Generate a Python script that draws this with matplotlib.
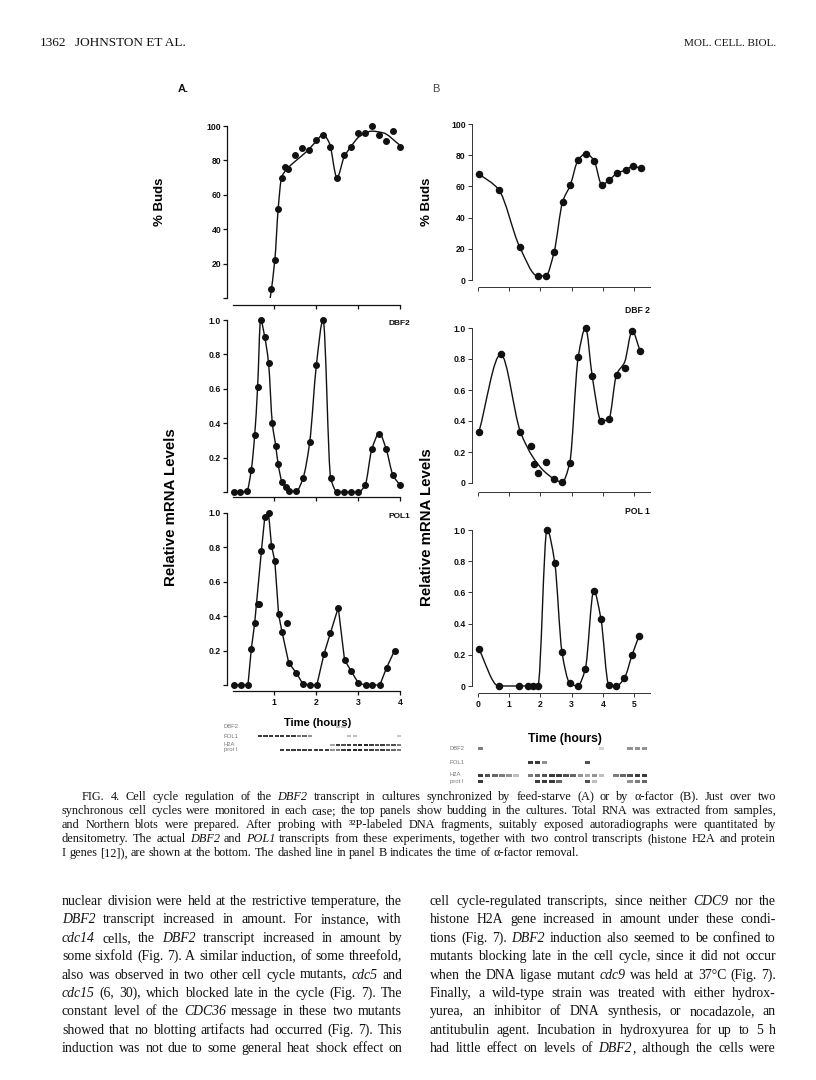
import numpy as np
import matplotlib
matplotlib.use("Agg")
import matplotlib.pyplot as plt
from matplotlib.path import Path
from matplotlib.patches import PathPatch
from matplotlib.transforms import IdentityTransform

# ---- data ----
# A (feed-starve), time in hours
a_buds_t = [0.94, 1.02, 1.10, 1.18, 1.26, 1.34, 1.51, 1.67, 1.84, 2.00, 2.17,
            2.33, 2.50, 2.67, 2.83, 3.01, 3.17, 3.33, 3.50, 3.67, 3.83, 3.99]
a_buds = [5, 22, 52, 70, 76, 75, 83, 87, 86, 92, 95,
          88, 70, 83, 88, 96, 96, 100, 95, 91, 97, 88]
a_buds_fit_t = [0.91, 1.02, 1.10, 1.18, 1.29, 1.53, 1.77, 2.00, 2.17,
                2.32, 2.50, 2.67, 2.83, 3.04, 3.33, 3.60, 3.99]
a_buds_fit = [0, 22, 52, 70, 74.5, 80, 85, 91, 95,
              90, 70, 82, 88, 94, 97, 96, 89]

a_dbf2_t = [0.04, 0.19, 0.35, 0.46, 0.54, 0.61, 0.68, 0.78, 0.87, 0.96,
            1.04, 1.10, 1.19, 1.28, 1.36, 1.53, 1.69, 1.85, 2.01, 2.17,
            2.35, 2.51, 2.67, 2.84, 3.01, 3.17, 3.33, 3.51, 3.67, 3.83, 4.00]
a_dbf2 = [0, 0, 0.005, 0.13, 0.33, 0.61, 1.0, 0.90, 0.75, 0.40,
          0.27, 0.16, 0.06, 0.03, 0.005, 0.005, 0.08, 0.29, 0.74, 1.0,
          0.08, 0, 0, 0, 0, 0.04, 0.25, 0.34, 0.25, 0.10, 0.04]

a_pol1_t = [0.04, 0.21, 0.38, 0.46, 0.54, 0.61, 0.65, 0.70, 0.78, 0.87,
            0.94, 1.02, 1.11, 1.19, 1.30, 1.35, 1.53, 1.69, 1.86, 2.02,
            2.19, 2.34, 2.53, 2.68, 2.84, 3.01, 3.18, 3.34, 3.52, 3.68, 3.87]
a_pol1 = [0, 0, 0, 0.21, 0.36, 0.47, 0.47, 0.78, 0.975, 1.0,
          0.81, 0.72, 0.41, 0.31, 0.36, 0.13, 0.07, 0.006, 0, 0,
          0.18, 0.30, 0.45, 0.145, 0.08, 0.01, 0, 0, 0, 0.10, 0.20]
a_pol1_fit_t = [0.04, 0.21, 0.38, 0.46, 0.54, 0.70, 0.78, 0.87, 0.94, 1.02,
                1.11, 1.19, 1.35, 1.53, 1.69, 1.86, 2.02, 2.19, 2.34, 2.53,
                2.68, 2.84, 3.01, 3.18, 3.34, 3.52, 3.68, 3.87]
a_pol1_fit = [0, 0, 0, 0.21, 0.36, 0.78, 0.975, 1.0, 0.81, 0.72,
              0.41, 0.31, 0.13, 0.07, 0.006, 0, 0, 0.18, 0.30, 0.45,
              0.145, 0.08, 0.01, 0, 0, 0, 0.10, 0.20]

# B (alpha-factor)
b_buds_t = [0.03, 0.66, 1.34, 1.91, 2.17, 2.44, 2.71, 2.96, 3.21,
            3.46, 3.72, 3.97, 4.20, 4.46, 4.73, 4.97, 5.22]
b_buds = [68, 58, 21, 2.6, 2.6, 18, 50, 61, 77,
          81, 76.5, 61, 64, 68.5, 70.5, 73, 71.5]

b_dbf2_t = [0.03, 0.73, 1.36, 1.71, 1.81, 1.93, 2.19, 2.44, 2.69, 2.94,
            3.21, 3.45, 3.66, 3.95, 4.19, 4.44, 4.70, 4.94, 5.20]
b_dbf2 = [0.33, 0.83, 0.33, 0.24, 0.12, 0.064, 0.135, 0.026, 0.006, 0.13,
          0.81, 1.0, 0.69, 0.40, 0.41, 0.70, 0.745, 0.98, 0.85]
b_dbf2_fit_t = [0.03, 0.73, 1.36, 1.75, 2.10, 2.45, 2.69, 2.94, 3.21,
                3.45, 3.66, 3.95, 4.19, 4.44, 4.70, 4.94, 5.20]
b_dbf2_fit = [0.33, 0.83, 0.33, 0.17, 0.08, 0.025, 0.005, 0.13, 0.81,
              1.0, 0.69, 0.40, 0.41, 0.70, 0.78, 0.98, 0.85]

b_pol1_t = [0.02, 0.66, 1.32, 1.61, 1.76, 1.92, 2.21, 2.46, 2.69, 2.94,
            3.19, 3.44, 3.71, 3.94, 4.19, 4.43, 4.69, 4.94, 5.16]
b_pol1 = [0.24, 0, 0, 0, 0, 0, 1.0, 0.79, 0.22, 0.02,
          0, 0.11, 0.61, 0.43, 0.008, 0, 0.05, 0.20, 0.32]

# northern blot band intensities (0 = none, 1 = black), one value per lane
blot_names = ["DBF2", "POL1", "H2A", "prot I"]
a_blot = [
    [0, 0, 0, 0, 0, 0, 0, 0, 0, 0, 0, 0, 0, 0, 0, 0, 0, 0, 0.3, 0.3, 0, 0, 0, 0, 0, 0, 0, 0, 0, 0],
    [0, 0, 0, 0, 0.9, 0.9, 0.9, 0.9, 0.9, 0.9, 0.9, 0.6, 0.7, 0.5, 0, 0, 0, 0, 0, 0, 0.3, 0.3, 0, 0, 0, 0, 0, 0, 0, 0.25],
    [0, 0, 0, 0, 0, 0, 0, 0, 0, 0, 0, 0, 0, 0, 0, 0, 0, 0.4, 0.9, 0.8, 0.9, 0.9, 1, 1, 0.9, 0.8, 0.9, 0.7, 0.8, 0.6],
    [0, 0, 0, 0, 0, 0, 0, 0, 0.9, 0.9, 0.9, 0.9, 0.9, 0.9, 0.9, 0.9, 0.9, 0.5, 0.6, 0.9, 1, 1, 1, 0.9, 0.9, 0.8, 0.9, 0.8, 0.7, 0.6],
]
b_blot = [
    [0.6, 0, 0, 0, 0, 0, 0, 0, 0, 0, 0, 0, 0, 0, 0, 0, 0, 0.2, 0, 0, 0, 0.5, 0.5, 0.5],
    [0, 0, 0, 0, 0, 0, 0, 0.9, 0.9, 0.5, 0, 0, 0, 0, 0, 0.8, 0, 0, 0, 0, 0, 0, 0, 0],
    [0.9, 0.8, 0.7, 0.6, 0.5, 0.3, 0, 0.6, 0.7, 0.8, 0.9, 0.9, 0.8, 0.7, 0.5, 0.4, 0.5, 0.3, 0, 0.6, 0.7, 0.8, 0.9, 0.9],
    [0.9, 0, 0, 0, 0, 0, 0, 0, 0.9, 0.9, 0.9, 0.7, 0, 0, 0, 0.8, 0.3, 0, 0, 0, 0, 0.5, 0.6, 0.7],
]

header_left = ["1362", "JOHNSTON ET AL."]
header_right = "MOL. CELL. BIOL."

caption = [
    "FIG. 4. Cell cycle regulation of the _DBF2_ transcript in cultures synchronized by feed-starve (A) or by α-factor (B). Just over two",
    "synchronous cell cycles were monitored in each case; the top panels show budding in the cultures. Total RNA was extracted from samples,",
    "and Northern blots were prepared. After probing with ³²P-labeled DNA fragments, suitably exposed autoradiographs were quantitated by",
    "densitometry. The actual _DBF2_ and _POL1_ transcripts from these experiments, together with two control transcripts (histone H2A and protein",
    "I genes [12]), are shown at the bottom. The dashed line in panel B indicates the time of α-factor removal.",
]
col_left = [
    "nuclear division were held at the restrictive temperature, the",
    "_DBF2_ transcript increased in amount. For instance, with",
    "_cdc14_ cells, the _DBF2_ transcript increased in amount by",
    "some sixfold (Fig. 7). A similar induction, of some threefold,",
    "also was observed in two other cell cycle mutants, _cdc5_ and",
    "_cdc15_ (6, 30), which blocked late in the cycle (Fig. 7). The",
    "constant level of the _CDC36_ message in these two mutants",
    "showed that no blotting artifacts had occurred (Fig. 7). This",
    "induction was not due to some general heat shock effect on",
]
col_right = [
    "cell cycle-regulated transcripts, since neither _CDC9_ nor the",
    "histone H2A gene increased in amount under these condi-",
    "tions (Fig. 7). _DBF2_ induction also seemed to be confined to",
    "mutants blocking late in the cell cycle, since it did not occur",
    "when the DNA ligase mutant _cdc9_ was held at 37°C (Fig. 7).",
    "Finally, a wild-type strain was treated with either hydrox-",
    "yurea, an inhibitor of DNA synthesis, or nocadazole, an",
    "antitubulin agent. Incubation in hydroxyurea for up to 5 h",
    "had little effect on levels of _DBF2_, although the cells were",
]

# ---- page ----
W, H = 816, 1080
fig = plt.figure(figsize=(W / 100, H / 100), dpi=100)
fig.patch.set_facecolor("white")
PIX = IdentityTransform()
SANS = "Liberation Sans"
SERIF = "Liberation Serif"
INK = "#111111"


def ptext(x, y, s, **kw):
    kw.setdefault("color", INK)
    return fig.text(x, H - y, s, transform=PIX, **kw)


def put_line(line, x0, x1, yb, size, justify=True):
    # justified line of serif text, words wrapped in _..._ are italic
    r = fig.canvas.get_renderer()
    words = []
    for w in line.split():
        segs = []
        for k, s in enumerate(w.split("_")):
            if s:
                t = ptext(0, 0, s, fontsize=size, family=SERIF,
                          style="italic" if k % 2 else "normal", va="baseline")
                segs.append((t, t.get_window_extent(r).width))
        words.append(segs)
    wsum = [sum(wd for _, wd in segs) for segs in words]
    if justify and len(words) > 1:
        gap = (x1 - x0 - sum(wsum)) / (len(words) - 1)
    else:
        gap = size * 100 / 72 * 0.25
    x = x0
    for segs, ws in zip(words, wsum):
        xx = x
        for t, wd in segs:
            t.set_position((xx, H - yb))
            xx += wd
        x += ws + gap


def panel(xm, ym, xlim, ylim):
    # xm/ym: page pixel = a + b*value (y measured from top)
    x0, x1 = xm[0] + xm[1] * xlim[0], xm[0] + xm[1] * xlim[1]
    yt, yb = ym[0] - ym[1] * ylim[1], ym[0] - ym[1] * ylim[0]
    ax = fig.add_axes([x0 / W, 1 - yb / H, (x1 - x0) / W, (yb - yt) / H])
    ax.set_xlim(xlim)
    ax.set_ylim(ylim)
    ax.patch.set_alpha(0)
    for s in ["top", "right"]:
        ax.spines[s].set_visible(False)
    return ax


def axes_style(ax, xpos, ypos, xb, yb, yticks, ylabels, xticks, xlabels, lw, col, size):
    ax.spines["left"].set_position(("data", xpos))
    ax.spines["bottom"].set_position(("data", ypos))
    ax.spines["left"].set_bounds(*yb)
    ax.spines["bottom"].set_bounds(*xb)
    for s in ["left", "bottom"]:
        ax.spines[s].set_linewidth(lw)
        ax.spines[s].set_color(col)
    ax.set_yticks(yticks, ylabels)
    ax.set_xticks(xticks, xlabels)
    ax.tick_params(direction="out", length=3, width=lw, color=col, pad=1.5,
                   labelsize=size, labelcolor=INK)
    for lab in ax.get_xticklabels() + ax.get_yticklabels():
        lab.set_fontfamily(SANS)
        lab.set_fontweight("bold")


def smooth_path(x, y):
    # shape-preserving cubic through the knots, drawn as bezier segments
    x = np.asarray(x, float)
    y = np.asarray(y, float)
    dx = np.diff(x)
    s = np.diff(y) / dx
    m = np.zeros_like(y)
    m[0], m[-1] = s[0], s[-1]
    for i in range(1, len(y) - 1):
        if s[i - 1] * s[i] > 0:
            w1, w2 = 2 * dx[i] + dx[i - 1], dx[i] + 2 * dx[i - 1]
            m[i] = (w1 + w2) / (w1 / s[i - 1] + w2 / s[i])
    verts, codes = [(x[0], y[0])], [Path.MOVETO]
    for i in range(len(x) - 1):
        h = dx[i]
        verts += [(x[i] + h / 3, y[i] + m[i] * h / 3),
                  (x[i + 1] - h / 3, y[i + 1] - m[i + 1] * h / 3),
                  (x[i + 1], y[i + 1])]
        codes += [Path.CURVE4] * 3
    return Path(verts, codes)


def draw(ax, t, v, ft, fv, smooth=True, ms=4.0, lw=1.0):
    if smooth:
        ax.add_patch(PathPatch(smooth_path(ft, fv), fill=False, lw=lw, ec=INK))
    else:
        ax.plot(ft, fv, color=INK, lw=lw)
    ax.plot(t, v, "o", color=INK, ms=ms, mec=INK, clip_on=False)


# header
ptext(40, 46, header_left[0], fontsize=9.5, family=SERIF, va="baseline")
ptext(75, 46, header_left[1], fontsize=9.5, family=SERIF, va="baseline")
ptext(776, 46, header_right, fontsize=8, family=SERIF, va="baseline", ha="right")

# ---- panel A ----
AX = (232.0, 42.0)
AXL = (-0.2, 4.1)
ax1 = panel(AX, (298.0, 1.72), AXL, (-6, 104))
axes_style(ax1, -0.11, -4, (0.03, 4.0), (0, 100), [0, 20, 40, 60, 80, 100],
           ["", "20", "40", "60", "80", "100"], [1, 2, 3, 4], [], 0.9, INK, 6.2)
draw(ax1, a_buds_t, a_buds, a_buds_fit_t, a_buds_fit)
ax1.set_ylabel("% Buds", fontsize=9.5, family=SANS, fontweight="bold", va="center")
ax1.yaxis.set_label_coords(160, H - 202, transform=PIX)

ax2 = panel(AX, (492.0, 172.0), AXL, (-0.05, 1.05))
axes_style(ax2, -0.11, -0.03, (0.03, 4.0), (0, 1.0), [0, 0.2, 0.4, 0.6, 0.8, 1.0],
           ["", "0.2", "0.4", "0.6", "0.8", "1.0"], [1, 2, 3, 4], [], 0.9, INK, 6.2)
draw(ax2, a_dbf2_t, a_dbf2, a_dbf2_t, a_dbf2)
ax2.text(3.72, 0.97, "DBF2", fontsize=6, family=SANS, fontweight="bold", color=INK)
ax2.set_ylabel("Relative mRNA Levels", fontsize=10.8, family=SANS, fontweight="bold", va="center")
ax2.yaxis.set_label_coords(171, H - 507, transform=PIX)

ax3 = panel(AX, (685.0, 172.0), AXL, (-0.06, 1.05))
axes_style(ax3, -0.11, -0.037, (0.03, 4.0), (0, 1.0), [0, 0.2, 0.4, 0.6, 0.8, 1.0],
           ["", "0.2", "0.4", "0.6", "0.8", "1.0"], [1, 2, 3, 4], ["1", "2", "3", "4"], 0.9, INK, 6.2)
draw(ax3, a_pol1_t, a_pol1, a_pol1_fit_t, a_pol1_fit, smooth=False)
ax3.text(3.72, 0.97, "POL1", fontsize=6, family=SANS, fontweight="bold", color=INK)
ax3.set_xlabel("Time (hours)", fontsize=8, family=SANS, fontweight="bold")
ax3.xaxis.set_label_coords(318, H - 718, transform=PIX)

ptext(178, 92, "A.", fontsize=8, family=SANS, fontweight="bold", va="baseline")

# ---- panel B ----
BX = (478.0, 31.2)
BXL = (-0.3, 5.6)
BCOL = "#333333"
bx1 = panel(BX, (280.0, 1.56), BXL, (-8, 104))
axes_style(bx1, -0.19, -4.7, (0.03, 5.5), (0, 100), [0, 20, 40, 60, 80, 100],
           ["0", "20", "40", "60", "80", "100"], [0, 1, 2, 3, 4, 5], [], 0.7, BCOL, 6.2)
draw(bx1, b_buds_t, b_buds, b_buds_t, b_buds, ms=4.4)
bx1.set_ylabel("% Buds", fontsize=9.5, family=SANS, fontweight="bold", va="center")
bx1.yaxis.set_label_coords(427, H - 202, transform=PIX)

bx2 = panel(BX, (483.0, 155.0), BXL, (-0.07, 1.05))
axes_style(bx2, -0.19, -0.056, (0.03, 5.5), (0, 1.0), [0, 0.2, 0.4, 0.6, 0.8, 1.0],
           ["0", "0.2", "0.4", "0.6", "0.8", "1.0"], [0, 1, 2, 3, 4, 5], [], 0.7, BCOL, 6.2)
draw(bx2, b_dbf2_t, b_dbf2, b_dbf2_fit_t, b_dbf2_fit, ms=4.4)
bx2.text(5.5, 1.10, "DBF 2", fontsize=6.2, family=SANS, fontweight="bold", color=INK,
         ha="right", clip_on=False)
bx2.set_ylabel("Relative mRNA Levels", fontsize=10.8, family=SANS, fontweight="bold", va="center")
bx2.yaxis.set_label_coords(427, H - 527, transform=PIX)

bx3 = panel(BX, (686.0, 156.0), BXL, (-0.07, 1.05))
axes_style(bx3, -0.19, -0.047, (0.03, 5.5), (0, 1.0), [0, 0.2, 0.4, 0.6, 0.8, 1.0],
           ["0", "0.2", "0.4", "0.6", "0.8", "1.0"], [0, 1, 2, 3, 4, 5],
           ["0", "1", "2", "3", "4", "5"], 0.7, BCOL, 6.2)
draw(bx3, b_pol1_t, b_pol1, b_pol1_t, b_pol1, ms=4.4)
bx3.text(5.5, 1.10, "POL 1", fontsize=6.2, family=SANS, fontweight="bold", color=INK,
         ha="right", clip_on=False)
bx3.set_xlabel("Time (hours)", fontsize=8.8, family=SANS, fontweight="bold")
bx3.xaxis.set_label_coords(565, H - 733, transform=PIX)

ptext(432, 92, "B", fontsize=8, family=SANS, va="baseline", color="#444444")


# ---- blots ----
def blot(rows, x0, x1, ys, band, lab_x):
    n = len(rows[0])
    ax = fig.add_axes([x0 / W, 1 - (ys[-1] + 6) / H, (x1 - x0) / W, (ys[-1] - ys[0] + 12) / H])
    ax.set_xlim(0, n)
    ax.set_ylim(ys[-1] + 6, ys[0] - 6)
    ax.axis("off")
    for row, y in zip(rows, ys):
        g = [str(1 - 0.85 * v) for v in row]
        ax.bar(np.arange(n) + 0.5, [band if v > 0 else 0 for v in row], width=0.78,
               bottom=y - band / 2, color=g, linewidth=0)
    for name, y in zip(blot_names, ys):
        ptext(lab_x, y, name, fontsize=4.2, family=SANS, va="center", color="#777777")


blot(a_blot, 235, 402, [727, 736, 745, 750], 2.4, 224)
blot(b_blot, 477, 648, [748, 762, 775, 781], 3.0, 450)

# ---- caption and body text ----
for i, line in enumerate(caption):
    x0 = 82 if i == 0 else 62
    put_line(line, x0, 776, 800 + 14 * i, 8.8, justify=i < len(caption) - 1)
for i, line in enumerate(col_left):
    put_line(line, 62, 402, 905 + 18.4 * i, 9.9)
for i, line in enumerate(col_right):
    put_line(line, 430, 776, 905 + 18.4 * i, 9.9)

fig.savefig("out.png", dpi=100, facecolor="white")
